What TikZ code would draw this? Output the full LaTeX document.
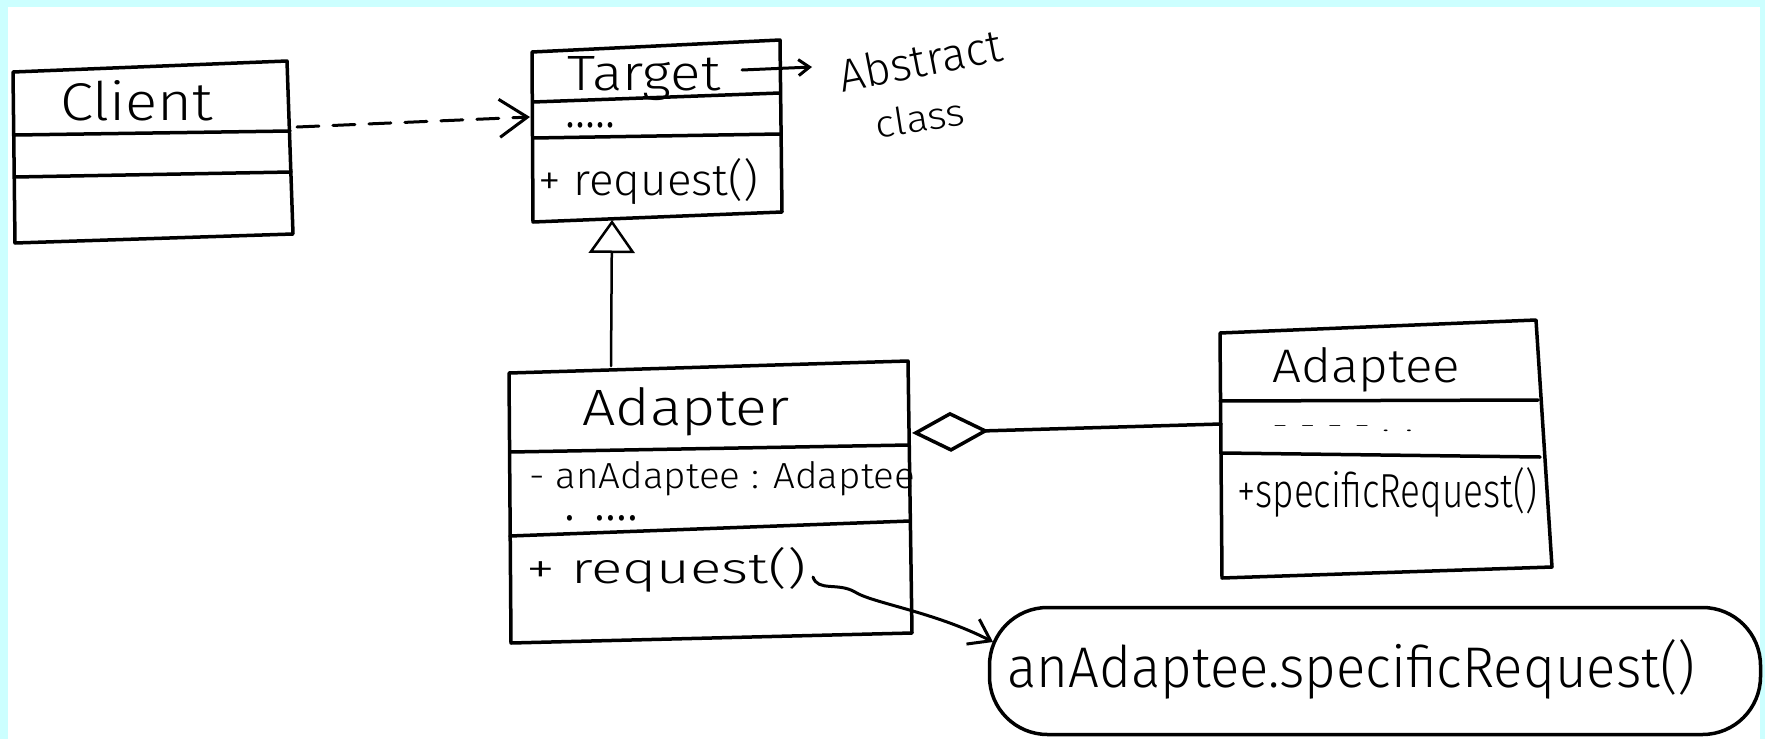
\documentclass[tikz,border=0pt]{standalone}
\usepackage{fontspec}
\setmainfont{Fira Sans Light}
\usetikzlibrary{arrows.meta}
% set a text to an exact width and height (in pt)
\newcommand\hw[3]{\resizebox{#1pt}{#2pt}{#3}}
\definecolor{pagecyan}{RGB}{204,255,255}
\begin{document}
\begin{tikzpicture}[x=1pt,y=-1pt,
  frame/.style={line width=3.5pt, line join=round, line cap=round},
  divider/.style={line width=3.5pt, line cap=round},
  txt/.style={inner sep=0pt, anchor=base west},
  link/.style={line width=3pt, line cap=round},
]
% page
\fill[pagecyan] (0,0) rectangle (1765,739);
\fill[white] (8,7) rectangle (1760,739);
\useasboundingbox (0,0) rectangle (1765,739);

% ---- Client ----
\coordinate (client-tl) at (13,72);
\coordinate (client-tr) at (287,61);
\coordinate (client-br) at (293,234);
\coordinate (client-bl) at (15,243);
\draw[frame] (client-tl) -- (client-tr) -- (client-br) -- (client-bl) -- cycle;
\draw[divider] (15,135) -- (290,131);
\draw[divider] (15,177) -- (291,172);
\node[txt] (client-name) at (60,120) {\hw{153}{40}{Client}};
\coordinate (client-e) at (297,127);

% ---- Target ----
\coordinate (target-tl) at (532,52);
\coordinate (target-tr) at (780,40);
\coordinate (target-br) at (782,212);
\coordinate (target-bl) at (533,222);
\draw[frame] (target-tl) -- (target-tr) -- (target-br) -- (target-bl) -- cycle;
\draw[divider] (533,102) -- (780,93);
\draw[divider] (533,138) -- (780,134);
\node[txt] (target-name) at (567,90) {\hw{153}{34}{Target}};
\node[txt] (target-attrs) at (565,127) {\hw{50}{5}{.....}};
\node[txt] (target-op) at (538,195) {\hw{220}{37}{+ request()}};
\coordinate (target-w) at (530,117);
\coordinate (target-s) at (612,220);
\coordinate (target-note) at (742,70);

% note on Target
\node[inner sep=0pt, rotate=11] (abstract-word) at (920,60) {\hw{165}{34}{Abstract}};
\node[inner sep=0pt, rotate=9] (class-word) at (920,118) {\hw{90}{28}{class}};
\coordinate (note-tip) at (812,67);

% ---- Adapter ----
\coordinate (adapter-tl) at (509,373);
\coordinate (adapter-tr) at (908,361);
\coordinate (adapter-br) at (912,633);
\coordinate (adapter-bl) at (511,643);
\draw[frame] (adapter-tl) -- (adapter-tr) -- (adapter-br) -- (adapter-bl) -- cycle;
\draw[divider] (510,452) -- (909,445);
\draw[divider] (510,536) -- (910,521);
\node[txt] (adapter-name) at (582,425) {\hw{207}{38}{Adapter}};
\node[txt] (adapter-attr) at (529,488) {\hw{386}{27}{- anAdaptee : Adaptee}};
\node[txt] (adapter-dots) at (564,520) {\hw{74}{5}{. ....}};
\node[txt] (adapter-op) at (526,583) {\hw{280}{36}{+ request()}};
\coordinate (adapter-n) at (611,366);
\coordinate (adapter-e) at (912,433);
\coordinate (req-end) at (813,577);

% ---- Adaptee ----
\coordinate (adaptee-tl) at (1220,333);
\coordinate (adaptee-tr) at (1536,320);
\coordinate (adaptee-br) at (1552,567);
\coordinate (adaptee-bl) at (1222,578);
\draw[frame] (adaptee-tl) -- (adaptee-tr) -- (adaptee-br) -- (adaptee-bl) -- cycle;
\draw[divider] (1220,401) -- (1538,400);
\draw[divider] (1222,453) -- (1540,457);
\node[txt] (adaptee-name) at (1272,382) {\hw{188}{35}{Adaptee}};
\node[txt] (adaptee-dots) at (1272,431) {\hw{141}{6}{- - - - . .}};
\node[txt] (adaptee-op) at (1237,507) {\hw{300}{40}{+specificRequest()}};
\coordinate (adaptee-w) at (1221,424);

% ---- note on request() ----
\node[draw, line width=3.5pt, rounded corners=58pt, minimum width=771pt,
      minimum height=127pt, inner sep=0pt] (callout) at (1375,671) {};
\node[txt] (callout-text) at (1007,687) {\hw{688}{48}{anAdaptee.specificRequest()}};
\coordinate (callout-in) at (993,642);

% ---- connectors ----
\draw[link, dash pattern=on 22pt off 14pt,
      -{Straight Barb[length=28pt, width=38pt]}] (client-e) -- (target-w);
\draw[link, line width=2.5pt,
      -{Triangle[open, length=33pt, width=46pt]}] (adapter-n) -- (target-s);
\draw[link, line width=3.5pt,
      {Diamond[open, length=77pt, width=40pt]}-] (adapter-e) -- (adaptee-w);
\draw[link, -{Straight Barb[length=11pt, width=16pt]}] (target-note) -- (note-tip);
\draw[link, -{Straight Barb[length=20pt, width=28pt]}] (req-end)
  .. controls (818,592) and (838,582) .. (855,592)
  .. controls (872,603) and (935,612) .. (callout-in);
\end{tikzpicture}
\end{document}
